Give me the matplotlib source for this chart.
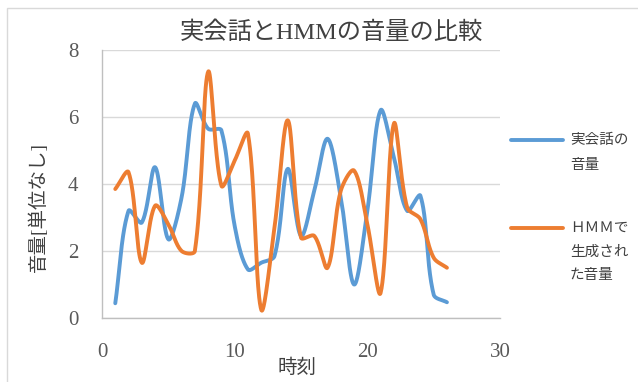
import numpy as np
import matplotlib
matplotlib.use("Agg")
import matplotlib.pyplot as plt
from matplotlib.patches import Rectangle
from matplotlib.lines import Line2D

plt.rcParams['font.family'] = ['Liberation Serif', 'Noto Sans CJK JP', 'DejaVu Sans']

time = list(range(1, 27))
real_volume = [0.44, 3.2, 2.85, 4.5, 2.35, 3.6, 6.4, 5.65, 5.6, 2.75, 1.45, 1.65, 1.85,
               4.45, 2.45, 3.8, 5.35, 3.6, 1.0, 3.2, 6.2, 4.8, 3.2, 3.65, 0.7, 0.47]
hmm_volume = [3.85, 4.35, 1.65, 3.35, 2.8, 2.0, 2.0, 7.35, 3.95, 4.7, 5.5, 0.25, 2.7,
              5.9, 2.4, 2.45, 1.5, 3.8, 4.4, 2.8, 0.75, 5.8, 3.3, 2.95, 1.8, 1.5]
labels = ["実会話の\n音量", "ＨＭＭで\n生成され\nた音量"]
colors = ["#5B9BD5", "#ED7D31"]

W, H = 638, 382
AX_L, AX_R, AX_T, AX_B = 102, 500, 50, 318


def smooth(xs, ys, sx, sy, n=40):
    """Excel-like smooth line: Bezier segments with chord-length weighted tangents.
    sx, sy: pixel size of one data unit (used only for distances)."""
    p = np.column_stack([xs, ys]).astype(float)
    scale = np.array([sx, sy])
    p_ext = np.vstack([p[0], p, p[-1]])
    out = []
    t = np.linspace(0, 1, n)[:, None]
    for i in range(len(p) - 1):
        p0, p1, p2, p3 = p_ext[i], p_ext[i + 1], p_ext[i + 2], p_ext[i + 3]
        d01 = np.linalg.norm((p1 - p0) * scale)
        d12 = np.linalg.norm((p2 - p1) * scale)
        d23 = np.linalg.norm((p3 - p2) * scale)
        f1 = d12 / (d01 + d12) / 3.0 if d01 + d12 > 0 else 0
        f2 = d12 / (d12 + d23) / 3.0 if d12 + d23 > 0 else 0
        b1 = p1 + (p2 - p0) * f1
        b2 = p2 - (p3 - p1) * f2
        seg = ((1 - t) ** 3) * p1 + 3 * ((1 - t) ** 2) * t * b1 + 3 * (1 - t) * t ** 2 * b2 + t ** 3 * p2
        out.append(seg if i == 0 else seg[1:])
    s = np.vstack(out)
    return s[:, 0], s[:, 1]


fig = plt.figure(figsize=(W / 100, H / 100), dpi=100)
fig.add_artist(Rectangle((7 / W, -0.5), 2, 1.5 - 8 / H, transform=fig.transFigure,
                         fill=False, edgecolor="#D9D9D9", linewidth=1.0))

ax = fig.add_axes([AX_L / W, 1 - AX_B / H, (AX_R - AX_L) / W, (AX_B - AX_T) / H])
ax.set_xlim(0, 30)
ax.set_ylim(0, 8)
ux = (AX_R - AX_L) / 30.0
uy = (AX_B - AX_T) / 8.0

for ys, c in zip([real_volume, hmm_volume], colors):
    sxv, syv = smooth(time, ys, ux, uy)
    ax.plot(sxv, syv, color=c, linewidth=2.8, solid_capstyle='round', zorder=3)

ax.set_xticks([0, 10, 20, 30])
ax.set_yticks([0, 2, 4, 6, 8])
ax.grid(axis='y', color="#D9D9D9", linewidth=1.0, zorder=0)
ax.set_axisbelow(True)
for s in ['top', 'right']:
    ax.spines[s].set_visible(False)
for s in ['left', 'bottom']:
    ax.spines[s].set_color("#BFBFBF")
    ax.spines[s].set_linewidth(1.0)
ax.tick_params(length=0, colors="#595959", labelsize=15)
ax.tick_params(axis='y', pad=17)
ax.tick_params(axis='x', pad=18)

fig.text(331 / W, 1 - 33 / H, "実会話とHMMの音量の比較", fontsize=17.5, color="#404040",
         ha='center', va='center')
fig.text(297 / W, 1 - 368 / H, "時刻", fontsize=14, color="#404040", ha='center', va='center')
fig.text(38 / W, 1 - 207 / H, "音量[単位なし]", fontsize=14, color="#404040",
         ha='center', va='center', rotation=90)

# legend
leg_rows = [(140, [140, 165]), (228, [228, 252, 275])]
for (ly, text_ys), c, lab in zip(leg_rows, colors, labels):
    fig.add_artist(Line2D([511 / W, 563 / W], [1 - ly / H, 1 - ly / H], transform=fig.transFigure,
                          color=c, linewidth=2.8, solid_capstyle='round'))
    for ty, line in zip(text_ys, lab.split("\n")):
        fig.text(570 / W, 1 - ty / H, line, fontsize=10.5, color="#404040",
                 ha='left', va='center')

fig.savefig("out.png", dpi=100)
